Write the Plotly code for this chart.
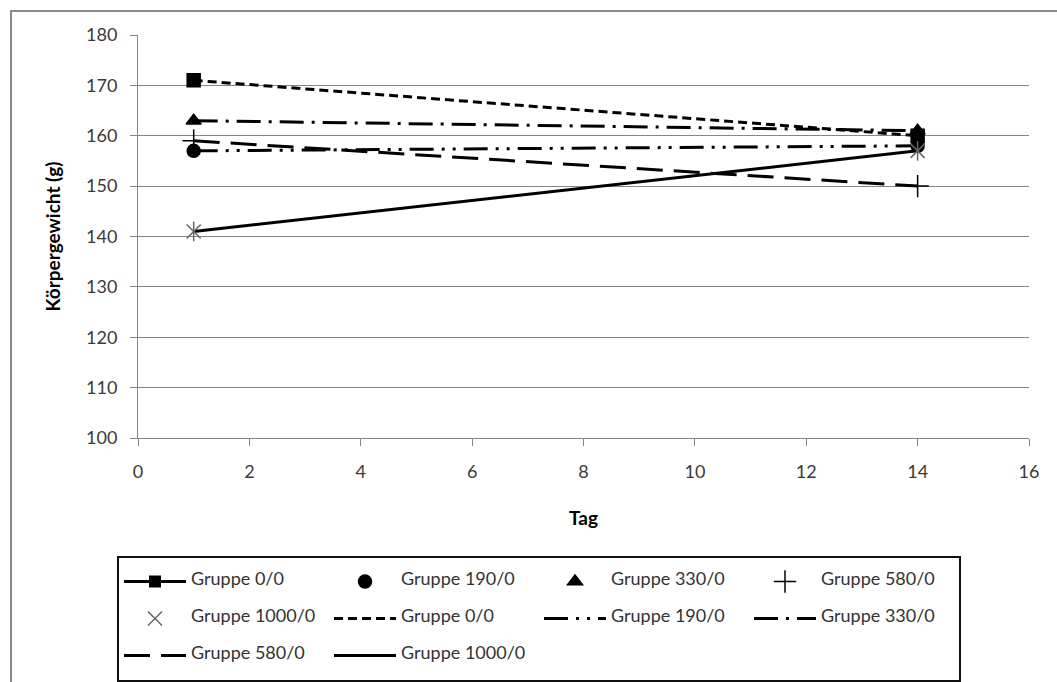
import plotly.graph_objects as go

# Körpergewicht je Gruppe an Tag 1 und Tag 14
tage = [1, 14]
gruppen = ["Gruppe 0/0", "Gruppe 190/0", "Gruppe 330/0", "Gruppe 580/0", "Gruppe 1000/0"]
gewicht_0 = [171, 160]
gewicht_190 = [157, 158]
gewicht_330 = [163, 161]
gewicht_580 = [159, 150]
gewicht_1000 = [141, 157]
werte = [gewicht_0, gewicht_190, gewicht_330, gewicht_580, gewicht_1000]

y_ticks = [100, 110, 120, 130, 140, 150, 160, 170, 180]
x_ticks = [0, 2, 4, 6, 8, 10, 12, 14, 16]

FONT = "Lato"
W, H = 1057, 682
LEG_F = 8.72  # legend base size sets the row height; the visible text is 18px


def leg(name):
    return "&nbsp;<br><span style='font-size:18px'>" + name + "</span><br>&nbsp;"


fig = go.Figure()

# line series (drawn first, markers on top)
line_dash = ["9px,5px", "24px,8px,3px,8px,3px,8px", "24px,8px,3px,8px", "26px,11px", "solid"]
for i, (name, vals, dash) in enumerate(zip(gruppen, werte, line_dash)):
    fig.add_trace(go.Scatter(
        x=tage, y=vals, mode="lines", name=leg(name),
        line=dict(color="black", width=3, dash=dash),
        legendrank=6 + i,
    ))

# marker series
symbols = ["square", "circle", "triangle-up", "cross-thin-open", "x-thin-open"]
sizes = [13, 13, 13, 16, 14]
for i, (name, vals, sym, sz) in enumerate(zip(gruppen, werte, symbols, sizes)):
    col = "#666666" if i == 4 else "black"
    fig.add_trace(go.Scatter(
        x=tage, y=vals, mode="markers", name=leg(name),
        marker=dict(symbol=sym, size=sz, color=col, line=dict(color=col, width=1.5)),
        showlegend=(i != 0), legendrank=1 + i, legendgroup="m%d" % i,
    ))
    if i == 4:
        fig.add_trace(go.Scatter(
            x=tage, y=vals, mode="markers", showlegend=False, legendgroup="m4",
            marker=dict(symbol="line-ns-open", size=14, color=col, line=dict(color=col, width=1.5)),
        ))

# legend entry for Gruppe 0/0 (line with square marker)
fig.add_trace(go.Scatter(
    x=[None], y=[None], mode="lines+markers", name=leg(gruppen[0]),
    line=dict(color="black", width=3),
    marker=dict(symbol="square", size=12, color="black"),
    legendrank=1, legendgroup="m0",
))

fig.update_layout(
    width=W, height=H,
    margin=dict(l=138, r=28, t=35, b=244, autoexpand=False),
    paper_bgcolor="white", plot_bgcolor="white",
    font=dict(family=FONT, size=18, color="#3a3a3a"),
    showlegend=True,
    legend=dict(
        orientation="h", xref="container", yref="container",
        x=117 / W, y=1 - 556 / H,
        xanchor="left", yanchor="top",
        bordercolor="#111111", borderwidth=2, bgcolor="white",
        font=dict(family=FONT, size=LEG_F, color="#333333"),
        itemwidth=62, entrywidth=133, entrywidthmode="pixels",
        traceorder="normal",
    ),
    xaxis=dict(
        range=[0, 16], tickvals=x_ticks, showgrid=False, zeroline=False,
        showline=True, linecolor="#868686", linewidth=1,
        ticks="outside", ticklen=7, tickcolor="#868686",
        ticklabelstandoff=10,
        title=dict(text="<b>Tag</b>", font=dict(size=19, color="black"), standoff=31),
    ),
    yaxis=dict(
        range=[100, 180], tickvals=y_ticks, showgrid=True, gridcolor="#868686", gridwidth=1,
        zeroline=False, showline=True, linecolor="#868686", linewidth=1,
        ticks="outside", ticklen=7, tickcolor="#868686",
        ticklabelstandoff=9,
        title=dict(text="<b>Körpergewicht (g)</b>", font=dict(size=19, color="black"), standoff=20),
    ),
    shapes=[dict(
        type="rect", xref="paper", yref="paper",
        x0=(11 - 138) / 891, x1=(1070 - 138) / 891,
        y0=(438 - 700) / 403, y1=(438 - 11) / 403,
        line=dict(color="#8c8c8c", width=2), fillcolor="rgba(0,0,0,0)", layer="below",
    )],
)

fig.write_html("out.html")
